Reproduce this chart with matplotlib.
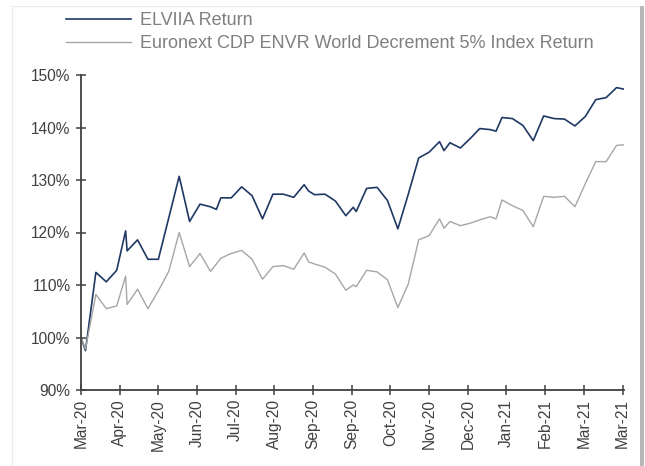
import matplotlib
matplotlib.use("Agg")
import matplotlib.pyplot as plt
from matplotlib.ticker import FuncFormatter
from matplotlib.patches import Rectangle
import pandas as pd

plt.rcParams['font.family'] = ['Liberation Sans', 'DejaVu Sans']

dates = [
    "2020-03-31", "2020-04-03", "2020-04-10", "2020-04-17", "2020-04-24", "2020-04-30",
    "2020-05-01", "2020-05-08", "2020-05-15", "2020-05-22", "2020-05-29", "2020-06-05",
    "2020-06-12", "2020-06-19", "2020-06-26", "2020-06-30", "2020-07-03", "2020-07-10",
    "2020-07-17", "2020-07-24", "2020-07-31", "2020-08-07", "2020-08-14", "2020-08-21",
    "2020-08-28", "2020-08-31", "2020-09-04", "2020-09-11", "2020-09-18", "2020-09-25",
    "2020-09-30", "2020-10-02", "2020-10-09", "2020-10-16", "2020-10-23", "2020-10-30",
    "2020-11-06", "2020-11-13", "2020-11-20", "2020-11-27", "2020-11-30", "2020-12-04",
    "2020-12-11", "2020-12-18", "2020-12-24", "2020-12-31", "2021-01-04", "2021-01-08",
    "2021-01-15", "2021-01-22", "2021-01-29", "2021-02-05", "2021-02-12", "2021-02-19",
    "2021-02-26", "2021-03-05", "2021-03-12", "2021-03-19", "2021-03-26", "2021-03-31",
]

elviia = [
    100.0, 97.5, 112.4, 110.6, 112.8, 120.3,
    116.5, 118.6, 114.9, 114.9, 122.8, 130.7,
    122.1, 125.4, 124.9, 124.4, 126.6, 126.6,
    128.7, 127.0, 122.6, 127.3, 127.3, 126.7,
    129.1, 127.9, 127.2, 127.3, 126.0, 123.2,
    124.8, 124.0, 128.4, 128.6, 126.1, 120.7,
    127.3, 134.2, 135.3, 137.3, 135.6, 137.1,
    136.1, 138.0, 139.8, 139.6, 139.3, 141.9,
    141.7, 140.4, 137.5, 142.2, 141.7, 141.6,
    140.3, 142.1, 145.3, 145.7, 147.6, 147.3,
]

benchmark = [
    100.0, 97.8, 108.2, 105.5, 106.0, 111.7,
    106.3, 109.2, 105.5, 108.9, 112.6, 120.0,
    113.5, 116.0, 112.6, 114.0, 115.1, 116.0,
    116.6, 114.9, 111.1, 113.5, 113.7, 113.0,
    116.1, 114.4, 114.0, 113.4, 112.1, 109.0,
    110.0, 109.7, 112.8, 112.5, 111.0, 105.7,
    110.2, 118.6, 119.4, 122.6, 120.8, 122.1,
    121.3, 121.8, 122.4, 123.0, 122.6, 126.2,
    125.1, 124.2, 121.1, 126.9, 126.7, 126.9,
    124.9, 129.3, 133.5, 133.5, 136.6, 136.7,
]

series_labels = ["ELVIIA Return", "Euronext CDP ENVR World Decrement 5% Index Return"]
y_ticks = [90, 100, 110, 120, 130, 140, 150]

x = pd.to_datetime(dates)
start = x[0]
tick_dates = [start + pd.Timedelta(days=26 * k) for k in range(15)]

W, H = 645, 466
fig = plt.figure(figsize=(W / 100, H / 100), dpi=100)
fig.patch.set_facecolor("white")

# faint frame + right shadow
fig.add_artist(plt.Line2D([12 / W, 12 / W], [0, 1 - 6 / H], transform=fig.transFigure, color="#ececec", lw=0.8))
fig.add_artist(plt.Line2D([12 / W, 639 / W], [1 - 6 / H, 1 - 6 / H], transform=fig.transFigure, color="#ececec", lw=0.8))
fig.add_artist(Rectangle((639.5 / W, 0), 4 / W, 1 - 6 / H, transform=fig.transFigure, color="#b8b8b8", lw=0))

ax = fig.add_axes([81 / W, 1 - 390 / H, (624 - 81) / W, (390 - 75) / H])
l1, = ax.plot(x, elviia, color="#1F3864", lw=1.2, label=series_labels[0])
l2, = ax.plot(x, benchmark, color="#A6A6A6", lw=1.0, label=series_labels[1])

ax.set_ylim(90, 150)
ax.set_yticks(y_ticks)
ax.yaxis.set_major_formatter(FuncFormatter(lambda v, p: f"{v:.0f}%"))
ax.set_xlim(start, x[-1])
ax.set_xticks(tick_dates)
ax.set_xticklabels([d.strftime("%b-%y") for d in tick_dates], rotation=90)

for s in ["top", "right"]:
    ax.spines[s].set_visible(False)
for s in ["left", "bottom"]:
    ax.spines[s].set_color("#404040")
    ax.spines[s].set_linewidth(1.3)
ax.tick_params(axis="both", direction="inout", length=7, width=1.1, color="#404040",
               labelsize=11.2, labelcolor="#404040")
ax.tick_params(axis="y", pad=4)
ax.tick_params(axis="x", pad=3)

leg = fig.legend(handles=[l1, l2], loc="upper left", bbox_to_anchor=(66 / W, 1 - 12 / H),
                 frameon=False, fontsize=13, handlelength=3.6, handletextpad=0.5,
                 labelspacing=0.35, borderaxespad=0, borderpad=0)
for t in leg.get_texts():
    t.set_color("#7f7f7f")

fig.savefig("out.png", dpi=100, facecolor="white")
